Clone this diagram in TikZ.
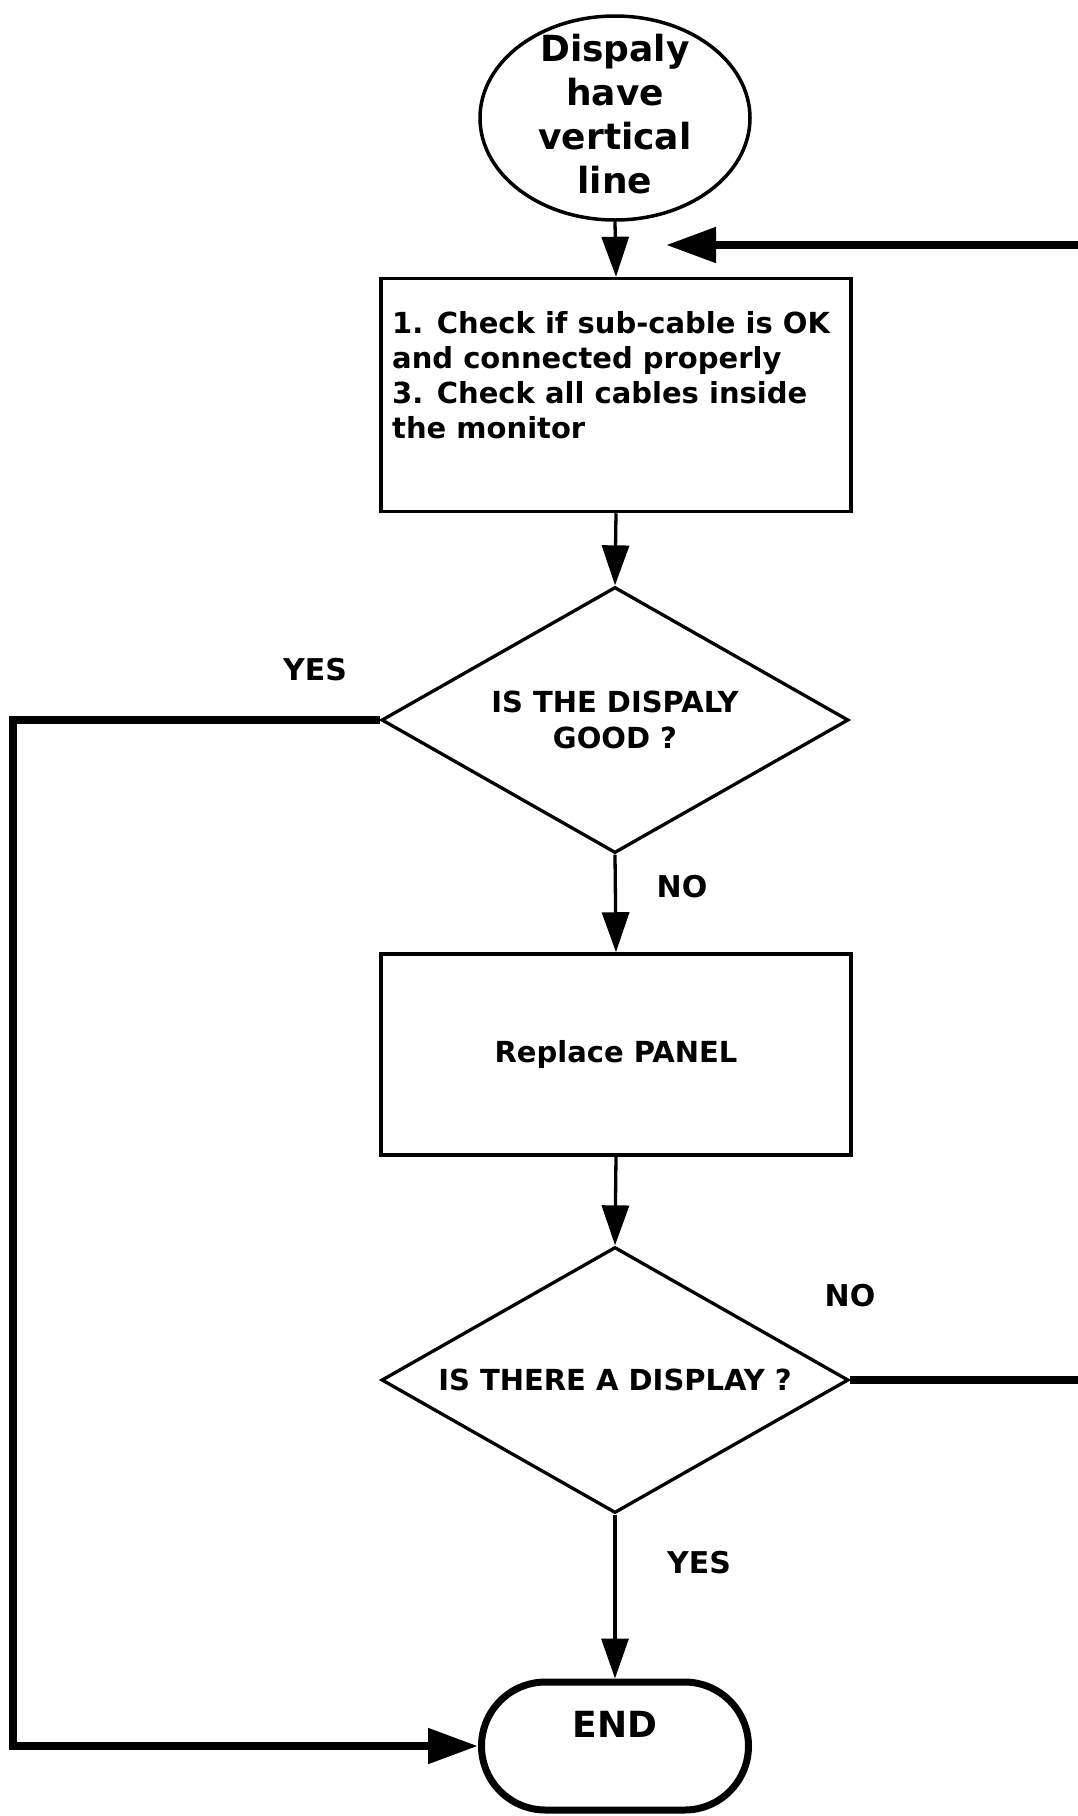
\documentclass[tikz,border=0pt]{standalone}
\usepackage{fontspec}
\setmainfont{DejaVu Sans}
\usetikzlibrary{shapes.geometric,shapes.misc,arrows.meta}
\tikzset{
  thin line/.style={line width=3.3pt},
  thick loop/.style={line width=8pt},
  thinarrow/.style={thin line,-{Triangle[length=40pt,width=27pt]}},
  thickarrow/.style={thick loop,-{Triangle[length=50pt,width=34pt]}},
  boxnode/.style={draw,line width=3.5pt,rectangle,minimum width=470pt,inner sep=0pt},
  decision/.style={draw,line width=3.3pt,diamond,shape aspect=1.756,minimum width=467pt,minimum height=266pt,inner sep=0pt,align=center,
     font=\fontsize{29}{36}\selectfont\bfseries},
  lbl/.style={font=\fontsize{30}{36}\selectfont\bfseries,inner sep=0pt},
}
\begin{document}
\begin{tikzpicture}[x=1pt,y=-1pt]
\useasboundingbox (0,0) rectangle (1078,1816);
% start
\node[draw,ellipse,line width=3.5pt,minimum width=270pt,minimum height=204pt,inner sep=0pt] (start) at (615,118) {};
\node[align=center,inner sep=0pt,font=\fontsize{36}{44}\selectfont\bfseries] (starttxt) at (615,114) {Dispaly\\have\\vertical\\line};
% box 1
\node[boxnode,minimum height=233pt] (box1) at (616,395) {};
\node[anchor=north west,align=left,inner sep=0pt,font=\fontsize{29}{35}\selectfont\bfseries] (box1txt) at (392,311)
  {1. Check if sub-cable is OK\\and connected properly\\3. Check all cables inside\\the monitor};
% decision 1
\node[decision] (d1) at (615,720) {IS THE DISPALY\\GOOD ?};
% box 2
\node[boxnode,minimum height=201pt,font=\fontsize{29}{36}\selectfont\bfseries] (box2) at (616,1054.5) {Replace PANEL};
% decision 2
\node[decision] (d2) at (615,1380) {IS THERE A DISPLAY ?};
% end
\node[draw,rounded rectangle,line width=7pt,minimum width=267pt,minimum height=128pt,inner sep=0pt] (end) at (615,1746) {};
\node[font=\fontsize{36}{44}\selectfont\bfseries,inner sep=0pt] (endtxt) at (615,1724) {END};
% labels
\node[lbl] (yes1) at (315,670) {YES};
\node[lbl] (no1) at (682,887) {NO};
\node[lbl] (no2) at (850,1296) {NO};
\node[lbl] (yes2) at (699,1563) {YES};
% coordinates for loops
\coordinate (c1) at (13,720);
\coordinate (c2) at (13,1748);
\coordinate (rlow) at (1078,1380);
\coordinate (rhigh) at (1078,245);
\coordinate (loopend) at (666,245);
% connectors
\draw[thinarrow] (start.south) -- (box1.north);
\draw[thinarrow] (box1.south) -- (d1.north);
\draw[thinarrow] (d1.south) -- (box2.north);
\draw[thinarrow] (box2.south) -- (d2.north);
\draw[thinarrow] (d2.south) -- (end.north);
\draw[thickarrow] (d1.west) -- (c1) -- (c2 |- end.west) -- (end.west);
\draw[thick loop] (d2.east) -- (rlow);
\draw[thickarrow] (rhigh) -- (loopend);
\end{tikzpicture}
\end{document}
